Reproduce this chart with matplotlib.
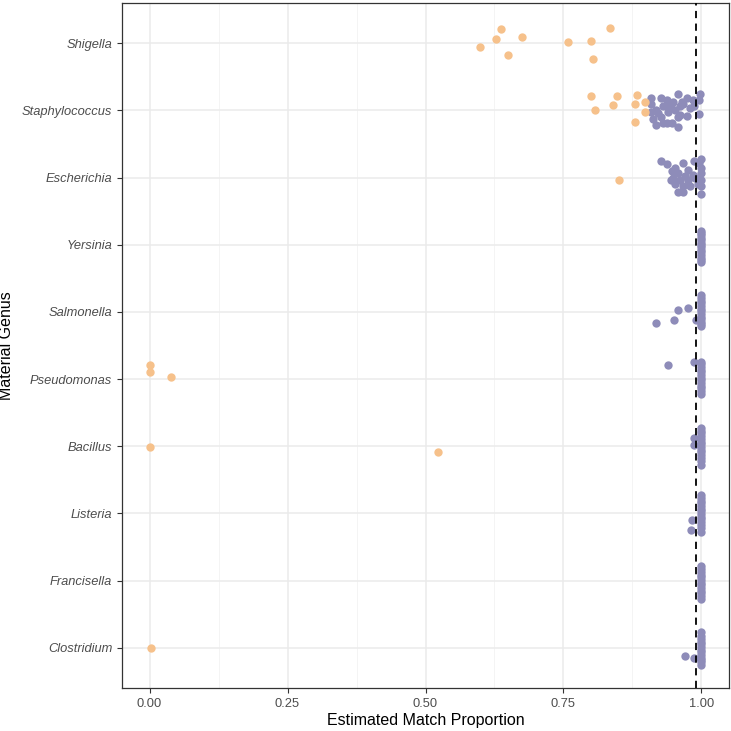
import matplotlib.pyplot as plt

plt.rcParams['font.family'] = ['Liberation Sans', 'DejaVu Sans']

# genera, top to bottom
genera = ['Shigella', 'Staphylococcus', 'Escherichia', 'Yersinia', 'Salmonella',
          'Pseudomonas', 'Bacillus', 'Listeria', 'Francisella', 'Clostridium']

# orange group: genus index, match proportion, vertical jitter (category units)
orange_genus = [0, 0, 0, 0, 0, 0, 0, 0, 0,
                1, 1, 1, 1, 1, 1, 1, 1, 1,
                2, 5, 5, 5, 6, 6, 9]
orange_x = [0.636, 0.627, 0.674, 0.599, 0.649, 0.758, 0.800, 0.835, 0.804,
            0.800, 0.847, 0.884, 0.808, 0.839, 0.879, 0.897, 0.897, 0.880,
            0.850, 0.0, 0.0, 0.039, 0.0, 0.522, 0.002]
orange_dy = [-0.21, -0.06, -0.10, 0.06, 0.18, -0.02, -0.04, -0.23, 0.23,
             -0.22, -0.21, -0.23, -0.01, -0.08, -0.09, -0.12, 0.03, 0.17,
             0.04, -0.21, -0.11, -0.03, 0.01, 0.08, 0.0]

# purple group
purple_genus = (
    [1] * 34 + [2] * 28 + [3] * 14 + [4] * 18 + [5] * 15 +
    [6] * 16 + [7] * 16 + [8] * 13 + [9] * 15
)
purple_x = [
    # Staphylococcus
    0.909, 0.926, 0.909, 0.917, 0.909, 0.922, 0.913, 0.917, 0.931, 0.940,
    0.949, 0.957, 0.964, 0.973, 0.980, 0.967, 0.944, 0.953, 0.962, 0.940,
    0.958, 0.973, 0.926, 0.931, 0.938, 0.947, 0.957, 0.962, 0.984, 0.998,
    0.996, 0.996, 0.986, 0.937,
    # Escherichia
    0.926, 0.938, 0.953, 0.967, 0.986, 0.995, 0.947, 0.957, 0.975, 0.984,
    0.949, 0.962, 0.976, 0.989, 0.953, 0.967, 0.980, 0.993, 0.957, 0.966,
    1.0, 1.0, 1.0, 1.0, 1.0, 1.0, 0.971, 0.944,
    # Yersinia
    1.0, 1.0, 1.0, 1.0, 1.0, 1.0, 1.0, 1.0, 1.0, 1.0, 1.0, 1.0, 1.0, 1.0,
    # Salmonella
    1.0, 1.0, 1.0, 1.0, 1.0, 1.0, 1.0, 1.0, 1.0, 1.0, 1.0, 1.0, 1.0,
    0.976, 0.958, 0.950, 0.918, 0.990,
    # Pseudomonas
    1.0, 1.0, 1.0, 1.0, 1.0, 1.0, 1.0, 1.0, 1.0, 1.0, 1.0, 1.0, 1.0,
    0.940, 0.986,
    # Bacillus
    1.0, 1.0, 1.0, 1.0, 1.0, 1.0, 1.0, 1.0, 1.0, 1.0, 1.0, 1.0, 1.0, 1.0,
    0.986, 0.986,
    # Listeria
    1.0, 1.0, 1.0, 1.0, 1.0, 1.0, 1.0, 1.0, 1.0, 1.0, 1.0, 1.0, 1.0, 1.0,
    0.983, 0.981,
    # Francisella
    1.0, 1.0, 1.0, 1.0, 1.0, 1.0, 1.0, 1.0, 1.0, 1.0, 1.0, 1.0, 1.0,
    # Clostridium
    1.0, 1.0, 1.0, 1.0, 1.0, 1.0, 1.0, 1.0, 1.0, 1.0, 1.0, 1.0, 1.0,
    0.971, 0.986,
]
purple_dy = [
    # Staphylococcus
    -0.18, -0.18, -0.09, 0.00, 0.03, 0.04, 0.13, 0.22, -0.06, -0.07,
    -0.12, -0.24, -0.13, -0.18, -0.04, -0.09, -0.03, -0.01, -0.06, 0.03,
    0.10, 0.09, 0.10, 0.19, 0.19, 0.19, 0.24, 0.07, -0.15, -0.25,
    -0.16, 0.06, -0.06, -0.15,
    # Escherichia
    -0.24, -0.21, -0.15, -0.22, -0.25, -0.22, -0.10, -0.07, -0.12, -0.04,
    0.00, 0.03, 0.04, 0.00, 0.10, 0.12, 0.12, 0.10, 0.22, 0.22,
    -0.27, -0.15, -0.07, 0.03, 0.12, 0.25, -0.03, 0.04,
    # Yersinia
    -0.21, -0.17, -0.14, -0.10, -0.07, -0.03, 0.00, 0.04, 0.08, 0.11,
    0.15, 0.19, 0.22, 0.25,
    # Salmonella
    -0.25, -0.21, -0.17, -0.13, -0.09, -0.05, -0.01, 0.03, 0.07, 0.11,
    0.15, 0.18, 0.21,
    -0.06, -0.03, 0.12, 0.16, 0.12,
    # Pseudomonas
    -0.26, -0.22, -0.18, -0.14, -0.10, -0.06, -0.02, 0.02, 0.06, 0.10,
    0.14, 0.18, 0.22,
    -0.21, -0.25,
    # Bacillus
    -0.27, -0.23, -0.19, -0.15, -0.11, -0.07, -0.03, 0.01, 0.05, 0.09,
    0.13, 0.17, 0.22, 0.28,
    -0.12, -0.02,
    # Listeria
    -0.27, -0.23, -0.19, -0.15, -0.11, -0.07, -0.03, 0.01, 0.05, 0.09,
    0.13, 0.17, 0.22, 0.27,
    0.10, 0.24,
    # Francisella
    -0.21, -0.17, -0.13, -0.09, -0.05, -0.01, 0.03, 0.07, 0.11, 0.15,
    0.19, 0.23, 0.27,
    # Clostridium
    -0.24, -0.17, -0.13, -0.09, -0.05, -0.01, 0.03, 0.07, 0.11, 0.15,
    0.19, 0.22, 0.25,
    0.12, 0.15,
]

threshold = 0.99

fig = plt.figure(figsize=(7.31, 7.31), dpi=100)
ax = fig.add_axes([0.1669, 0.0588, 0.8304, 0.9371])

# grid like ggplot theme_bw
for v in [0.125, 0.375, 0.625, 0.875]:
    ax.axvline(v, color='#F2F2F2', linewidth=0.6, zorder=0)
for v in [0, 0.25, 0.5, 0.75, 1.0]:
    ax.axvline(v, color='#EBEBEB', linewidth=1.1, zorder=0)
for i in range(len(genera)):
    ax.axhline(i, color='#EBEBEB', linewidth=1.1, zorder=0)

ax.scatter(purple_x, [g + d for g, d in zip(purple_genus, purple_dy)],
           s=36, color='#8E8CB9', linewidths=0, zorder=3)
ax.scatter(orange_x, [g + d for g, d in zip(orange_genus, orange_dy)],
           s=36, color='#F6C18B', linewidths=0, zorder=3)

ax.axvline(threshold, color='black', linestyle=(0, (4, 3)), linewidth=1.3, zorder=4)

ax.set_xlim(-0.05, 1.05)
ax.set_ylim(len(genera) - 0.4, -0.6)
ax.set_xticks([0, 0.25, 0.5, 0.75, 1.0])
ax.set_xticklabels(['0.00', '0.25', '0.50', '0.75', '1.00'])
ax.set_yticks(range(len(genera)))
ax.set_yticklabels(genera, fontstyle='italic')

ax.tick_params(axis='both', colors='#333333', labelcolor='#4D4D4D',
               labelsize=9.3, length=3.5, width=0.8)
for sp in ax.spines.values():
    sp.set_color('#333333')
    sp.set_linewidth(0.9)

ax.set_xlabel('Estimated Match Proportion', fontsize=11.5, labelpad=2)
ax.set_ylabel('Material Genus', fontsize=11.5)
ax.yaxis.set_label_coords(-0.178, 0.5)

fig.savefig('out.png', dpi=100)
